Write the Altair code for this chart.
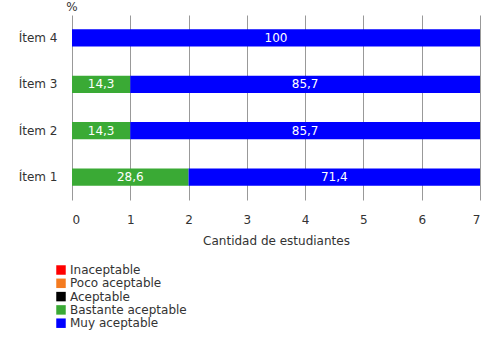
import altair as alt
import pandas as pd

items = ["Ítem 1", "Ítem 2", "Ítem 3", "Ítem 4"]
bastante = [2, 1, 1, 0]
muy = [5, 6, 6, 7]
pct_bastante = ["28,6", "14,3", "14,3", ""]
pct_muy = ["71,4", "85,7", "85,7", "100"]
categories = ["Inaceptable", "Poco aceptable", "Aceptable", "Bastante aceptable", "Muy aceptable"]
colors = ["#ff0000", "#f47b20", "#000000", "#3aaa35", "#0000ff"]
x_ticks = [0, 1, 2, 3, 4, 5, 6, 7]
unit_label = ["%"]

rows = []
for i, it in enumerate(items):
    if bastante[i] > 0:
        rows.append({"item": it, "cat": "Bastante aceptable", "ord": 3, "value": bastante[i], "label": pct_bastante[i]})
    if muy[i] > 0:
        rows.append({"item": it, "cat": "Muy aceptable", "ord": 4, "value": muy[i], "label": pct_muy[i]})
df = pd.DataFrame(rows)

FONT = "DejaVu Sans"
TXT = "#333333"
y_order = list(reversed(items))

base = alt.Chart(df)

bars = base.mark_bar().encode(
    x=alt.X("sum(value):Q", stack="zero",
            scale=alt.Scale(domain=[0, 7], nice=False),
            axis=alt.Axis(values=x_ticks, format="d", title="Cantidad de estudiantes", domain=False, ticks=False,
                          grid=True, gridColor="#999999", labelPadding=14, titlePadding=10,
                          labelFontSize=12, titleFontSize=12, labelColor=TXT, titleColor=TXT,
                          titleFontWeight="normal", labelFont=FONT, titleFont=FONT)),
    y=alt.Y("item:N", sort=y_order,
            scale=alt.Scale(paddingInner=0.63, paddingOuter=0.31),
            axis=alt.Axis(title=None, domain=False, ticks=False, labelPadding=15,
                          labelFontSize=12, labelColor=TXT, labelFont=FONT)),
    color=alt.Color("cat:N", scale=alt.Scale(domain=categories, range=colors),
                    legend=alt.Legend(title=None, orient="none", legendX=-17, legendY=249,
                                      symbolType="square", symbolSize=90, symbolStrokeWidth=0,
                                      labelFontSize=12, labelFont=FONT, labelColor=TXT,
                                      rowPadding=1.3, labelOffset=3)),
    order=alt.Order("ord:Q"),
)

labels = base.mark_text(color="white", fontSize=12, font=FONT).encode(
    x=alt.X("sum(value):Q", stack="zero", bandPosition=0.5),
    y=alt.Y("item:N", sort=y_order),
    detail="cat:N",
    order=alt.Order("ord:Q"),
    text="label:N",
)

pct = alt.Chart(pd.DataFrame({"t": unit_label})).mark_text(
    fontSize=12, font=FONT, fontWeight="normal", color=TXT, align="center"
).encode(x=alt.value(0), y=alt.value(-8), text="t:N")

chart = alt.layer(bars, labels, pct).properties(
    width=408, height=185,
    padding={"left": 72, "top": 15, "right": 8, "bottom": 141},
    autosize=alt.AutoSizeParams(type="none"),
).configure_view(stroke=None)

chart.save("out.html", embed_options={"renderer": "svg", "actions": False})
